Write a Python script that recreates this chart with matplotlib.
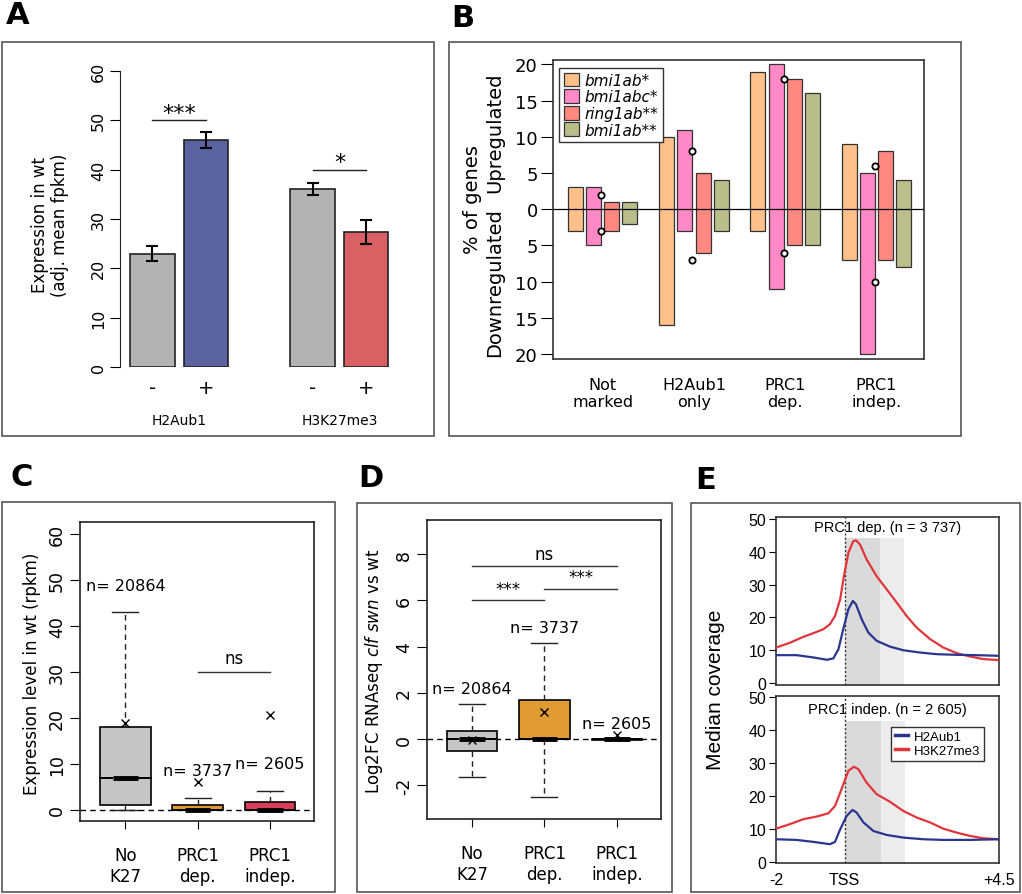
import numpy as np
import matplotlib
matplotlib.use('Agg')
import matplotlib.pyplot as plt
from matplotlib.patches import Rectangle, Patch
from matplotlib.lines import Line2D

plt.rcParams['axes.unicode_minus'] = False

W, H = 1022, 895

# ---------------- data ----------------
# A: mean expression by mark
a_groups = ['H2Aub1', 'H3K27me3']
a_signs = ['-', '+', '-', '+']
a_means = [23.0, 46.0, 36.0, 27.4]
a_err = [1.6, 1.7, 1.2, 2.4]
a_stars = ['***', '*']
a_star_y = [50, 40]

# B: % of genes up / down
b_categories = ['Not\nmarked', 'H2Aub1\nonly', 'PRC1\ndep.', 'PRC1\nindep.']
b_mutants = ['bmi1ab*', 'bmi1abc*', 'ring1ab**', 'bmi1ab**']
b_up_bmi1ab = [3, 10, 19, 9]
b_up_bmi1abc = [3, 11, 20, 5]
b_up_ring1ab = [1, 5, 18, 8]
b_up_bmi1ab2 = [1, 4, 16, 4]
b_down_bmi1ab = [3, 16, 3, 7]
b_down_bmi1abc = [5, 3, 11, 20]
b_down_ring1ab = [3, 6, 5, 7]
b_down_bmi1ab2 = [2, 3, 5, 8]
b_ref_up = [2, 8, 18, 6]
b_ref_down = [3, 7, 6, 10]

# C: expression level in wt (box stats)
c_groups = ['No\nK27', 'PRC1\ndep.', 'PRC1\nindep.']
c_n = ['20864', '3737', '2605']
c_q1 = [1.0, 0.0, 0.0]
c_med = [7.0, 0.0, 0.0]
c_q3 = [18.0, 1.0, 1.7]
c_whislo = [0.0, 0.0, 0.0]
c_whishi = [43.0, 2.5, 4.2]
c_mean = [18.8, 6.0, 20.5]
c_n_y = [48.8, 8.5, 10.0]

# D: log2FC clf swn vs wt (box stats)
d_groups = ['No\nK27', 'PRC1\ndep.', 'PRC1\nindep.']
d_n = ['20864', '3737', '2605']
d_q1 = [-0.5, 0.0, -0.02]
d_med = [0.0, 0.0, 0.0]
d_q3 = [0.33, 1.68, 0.02]
d_whislo = [-1.65, -2.5, 0.0]
d_whishi = [1.5, 4.15, 0.0]
d_mean = [-0.05, 1.15, 0.18]
d_n_y = [2.2, 4.84, 0.69]

# E: median coverage profiles
e1_red_x = [-2, -1.59, -1.2, -0.91, -0.62, -0.43, -0.28, -0.13, -0.02, 0.11, 0.25, 0.33, 0.45,
            0.64, 0.93, 1.23, 1.52, 1.81, 2.10, 2.49, 2.88, 3.27, 3.66, 4.04, 4.5]
e1_red_y = [10.8, 12.3, 14.1, 15.2, 16.4, 17.9, 20.4, 25.5, 32.6, 39.7, 43.2, 43.5, 42.2,
            37.7, 32.6, 28.5, 24.5, 20.4, 16.9, 13.4, 10.8, 9.1, 8.1, 7.3, 7.0]
e1_blue_x = [-2, -1.4, -0.91, -0.52, -0.33, -0.18, -0.04, 0.11, 0.24, 0.33, 0.50, 0.69, 0.93,
             1.32, 1.71, 2.20, 2.68, 3.27, 3.85, 4.5]
e1_blue_y = [8.5, 8.5, 7.8, 7.1, 7.5, 10.3, 16.4, 22.5, 25.0, 24.0, 19.4, 15.4, 12.9,
             11.1, 10.0, 9.3, 8.8, 8.6, 8.5, 8.3]
e2_red_x = [-2, -1.59, -1.2, -0.81, -0.47, -0.28, -0.09, 0.11, 0.27, 0.40, 0.64, 0.93, 1.32,
            1.71, 2.10, 2.49, 2.88, 3.27, 3.66, 4.04, 4.5]
e2_red_y = [10.1, 11.5, 13.0, 13.8, 14.8, 17.0, 22.1, 27.7, 28.9, 28.2, 24.1, 20.6, 18.3,
            15.5, 13.5, 12.0, 10.1, 8.9, 7.9, 7.2, 6.9]
e2_blue_x = [-2, -1.4, -0.91, -0.43, -0.28, -0.13, 0.06, 0.23, 0.35, 0.55, 0.84, 1.23, 1.71,
             2.30, 2.88, 3.66, 4.5]
e2_blue_y = [6.9, 6.7, 6.1, 5.4, 6.1, 9.9, 14.0, 15.8, 15.0, 12.0, 9.4, 8.2, 7.4,
             6.9, 6.7, 6.7, 6.9]
e_titles = ['PRC1 dep. (n = 3 737)', 'PRC1 indep. (n = 2 605)']
e_shade_dark = [(0, 1.03, 44.2), (0, 1.05, 42.7)]
e_shade_light = [(1.03, 1.72, 44.2), (1.05, 1.76, 42.7)]

# ---------------- figure ----------------
fig = plt.figure(figsize=(W / 100, H / 100), dpi=100)
EDGE = '#333333'


def add_ax(x0, y0, x1, y1):
    return fig.add_axes([x0 / W, 1 - y1 / H, (x1 - x0) / W, (y1 - y0) / H])


def ftext(x, y, s, **kw):
    return fig.text(x / W, 1 - y / H, s, **kw)


def frame(x0, y0, x1, y1):
    fig.add_artist(Rectangle((x0 / W, 1 - y1 / H), (x1 - x0) / W, (y1 - y0) / H,
                             transform=fig.transFigure, fill=False, ec='#555555', lw=1.2))


frame(2, 43, 434, 437)
frame(449, 43, 961, 437)
frame(2, 503, 335, 893)
frame(357, 504, 672, 893)
frame(691, 504, 1020, 893)

for lbl, x, y in [('A', 6, 1), ('B', 451, 4), ('C', 10, 463), ('D', 358, 464), ('E', 695, 466)]:
    ftext(x, y, lbl, fontsize=22, fontweight='heavy', ha='left', va='top')

# ---- A ----
axA = add_ax(120, 72, 400, 368)
a_x = [0, 1.2, 3.6, 4.8]
a_colors = ['#b3b3b3', '#5a62a0', '#b3b3b3', '#d96164']
axA.bar(a_x, a_means, width=1.0, color=a_colors, edgecolor='#222222', lw=1.2)
axA.errorbar(a_x, a_means, yerr=a_err, fmt='none', ecolor='black', elinewidth=1.5,
             capsize=4, capthick=1.5)
axA.set_xlim(-0.73, 5.56)
axA.set_ylim(0, 60)
for s in ['top', 'right', 'bottom']:
    axA.spines[s].set_visible(False)
axA.spines['left'].set_bounds(0, 60)
axA.spines['left'].set_color('#222222')
axA.set_yticks(range(0, 61, 10))
axA.tick_params(axis='y', length=7, labelsize=11.5, pad=3)
plt.setp(axA.get_yticklabels(), rotation=90, va='center')
axA.set_xticks(a_x)
axA.set_xticklabels(a_signs)
axA.tick_params(axis='x', length=0, labelsize=14, pad=8)
for i, g in enumerate(a_groups):
    mid = (a_x[2 * i] + a_x[2 * i + 1]) / 2
    axA.text(mid, -0.155, g, transform=axA.get_xaxis_transform(), ha='center', va='top', fontsize=10)
    axA.plot([a_x[2 * i], a_x[2 * i + 1]], [a_star_y[i]] * 2, color='#222222', lw=1)
    axA.text(mid, a_star_y[i] + 1.5, a_stars[i], ha='center', va='center', fontsize=16)
ftext(50, 225, 'Expression in wt\n(adj. mean fpkm)', rotation=90, ha='center', va='center',
      fontsize=12, multialignment='center', linespacing=1.1)

# ---- B ----
axB = add_ax(553, 61, 924, 360)
b_colors = ['#ffc08a', '#ff88c6', '#ff8880', '#b9be8a']
b_up = [b_up_bmi1ab, b_up_bmi1abc, b_up_ring1ab, b_up_bmi1ab2]
b_down = [b_down_bmi1ab, b_down_bmi1abc, b_down_ring1ab, b_down_bmi1ab2]
x_base = np.arange(len(b_categories)) * 5
bw = 0.82
for j in range(len(b_mutants)):
    up = np.array(b_up[j])
    dn = np.array(b_down[j])
    axB.bar(x_base + j, up + dn, bottom=-dn, width=bw, color=b_colors[j], edgecolor=EDGE, lw=0.9)
axB.axhline(0, color='black', lw=0.9)
cx = x_base + 1 + bw / 2
axB.plot(cx, b_ref_up, 'o', mfc='white', mec='black', ms=4.5, mew=1.3, zorder=5)
axB.plot(cx, -np.array(b_ref_down), 'o', mfc='white', mec='black', ms=4.5, mew=1.3, zorder=5)
axB.set_xlim(-1.215, 19.1)
axB.set_ylim(-20.7, 20.6)
yt = np.arange(-20, 21, 5)
axB.set_yticks(yt)
axB.set_yticklabels([str(abs(v)) for v in yt])
axB.tick_params(axis='y', length=9, labelsize=13, pad=2)
axB.set_xticks(x_base + 1.5)
axB.set_xticklabels(b_categories)
axB.tick_params(axis='x', length=0, labelsize=11.5, pad=13)
for s in axB.spines.values():
    s.set_color(EDGE)
    s.set_linewidth(1.2)
handles = [Patch(facecolor=c, edgecolor=EDGE, lw=0.9) for c in b_colors]
leg = axB.legend(handles, b_mutants, loc='upper left', bbox_to_anchor=(0.016, 0.973),
                 borderaxespad=0, fancybox=False, edgecolor=EDGE, framealpha=1,
                 prop={'style': 'italic', 'size': 11}, handlelength=1.0, handleheight=1.0,
                 handletextpad=0.4, borderpad=0.3, labelspacing=0.1)
leg.get_frame().set_linewidth(1)
ftext(472, 200, '% of genes', rotation=90, ha='center', va='center', fontsize=14)
ftext(495, 133, 'Upregulated', rotation=90, ha='center', va='center', fontsize=14)
ftext(495, 283, 'Downregulated', rotation=90, ha='center', va='center', fontsize=14)


# ---- C and D: box plots ----
def boxpanel(ax, q1, med, q3, lo, hi, mean, colors):
    stats = []
    for k in range(len(q1)):
        stats.append(dict(q1=q1[k], med=med[k], q3=q3[k], whislo=lo[k], whishi=hi[k],
                          mean=mean[k], cilo=med[k], cihi=med[k], fliers=[]))
    bp = ax.bxp(stats, positions=[1, 2, 3], widths=0.7, shownotches=True, showmeans=True,
                patch_artist=True, capwidths=0.36,
                boxprops=dict(edgecolor='black', lw=1.2),
                whiskerprops=dict(ls=(0, (4, 3)), lw=1, color='#222222'),
                capprops=dict(lw=1, color='#222222'),
                medianprops=dict(color='black', lw=3.5, solid_capstyle='butt'),
                meanprops=dict(marker='x', mec='black', ms=6, mew=1))
    for p, c in zip(bp['boxes'], colors):
        p.set_facecolor(c)
    ax.axhline(0, ls=(0, (4, 3)), color='black', lw=1, zorder=1)
    ax.set_xlim(0.373, 3.61)
    for s in ax.spines.values():
        s.set_color('#222222')
        s.set_linewidth(1.2)
    ax.set_xticks([1, 2, 3])
    ax.tick_params(axis='x', length=6, labelsize=12, pad=12)
    ax.tick_params(axis='y', length=7, labelsize=12.5, pad=3)


axC = add_ax(80, 523, 314, 822)
boxpanel(axC, c_q1, c_med, c_q3, c_whislo, c_whishi, c_mean, ['#c6c6c6', '#e39b30', '#d93e58'])
axC.set_ylim(-2.4, 62.5)
axC.set_yticks(range(0, 61, 10))
plt.setp(axC.get_yticklabels(), rotation=90, va='center')
axC.set_xticklabels(c_groups)
for k in range(3):
    axC.text(k + 1, c_n_y[k], 'n= ' + c_n[k], ha='center', va='center', fontsize=11.5)
axC.plot([2, 3], [30, 30], color='#333333', lw=1)
axC.text(2.5, 33, 'ns', ha='center', va='center', fontsize=12)
ftext(32, 674, 'Expression level in wt (rpkm)', rotation=90, ha='center', va='center', fontsize=12)

axD = add_ax(426.7, 521, 661, 820)
boxpanel(axD, d_q1, d_med, d_q3, d_whislo, d_whishi, d_mean, ['#c6c6c6', '#e09c32', '#c6c6c6'])
axD.set_ylim(-3.46, 9.48)
axD.set_yticks(range(-2, 9, 2))
plt.setp(axD.get_yticklabels(), rotation=90, va='center')
axD.set_xticklabels(d_groups)
for k in range(3):
    axD.text(k + 1, d_n_y[k], 'n= ' + d_n[k], ha='center', va='center', fontsize=11.5)
for (xa, xb, yy, lab, ty) in [(1, 3, 7.5, 'ns', 8.0), (1, 2, 6.0, '***', 6.5), (2, 3, 6.5, '***', 7.0)]:
    axD.plot([xa, xb], [yy, yy], color='#333333', lw=1)
    axD.text((xa + xb) / 2, ty, lab, ha='center', va='center', fontsize=12)
ftext(374, 671, r'Log2FC RNAseq $\it{clf\ swn}$ vs wt', rotation=90, ha='center', va='center',
      fontsize=12)

# ---- E ----
EF = 'Liberation Sans'
axE1 = add_ax(776, 518.3, 999, 685.7)
axE2 = add_ax(776, 697.3, 999, 864.3)
e_lines = [(e1_blue_x, e1_blue_y, e1_red_x, e1_red_y), (e2_blue_x, e2_blue_y, e2_red_x, e2_red_y)]
e_ylims = [(-0.5, 50.5), (-0.4, 50.3)]
e_title_y = [0.944, 0.924]
for i, ax in enumerate([axE1, axE2]):
    d0, d1, dt = e_shade_dark[i]
    l0, l1, lt = e_shade_light[i]
    ax.fill_between([d0, d1], -5, dt, color='#dadada', lw=0, zorder=0)
    ax.fill_between([l0, l1], -5, lt, color='#ececec', lw=0, zorder=0)
    ax.axvline(0, ls=(0, (1.5, 1.5)), color='#333333', lw=1, zorder=1)
    bx, by, rx, ry = e_lines[i]
    ax.plot(rx, ry, color='#e0353b', lw=1.6, zorder=3, label='H3K27me3')
    ax.plot(bx, by, color='#2b3590', lw=1.6, zorder=3, label='H2Aub1')
    ax.set_xlim(-2, 4.5)
    ax.set_ylim(*e_ylims[i])
    ax.set_yticks(range(0, 51, 10))
    ax.tick_params(axis='y', length=5, labelsize=11.5, pad=2)
    for t in ax.get_yticklabels():
        t.set_family(EF)
    for s in ax.spines.values():
        s.set_color(EDGE)
        s.set_linewidth(1.2)
    ax.text(0.5, e_title_y[i], e_titles[i], transform=ax.transAxes, ha='center', va='center',
            fontsize=10.5, family=EF)
axE1.set_xticks([])
axE2.set_xticks([-2, 0, 4.5])
axE2.set_xticklabels(['-2', 'TSS', '+4.5'], family=EF)
axE2.tick_params(axis='x', length=0, labelsize=11.5, pad=6)
eh = [Line2D([], [], color='#2b3590', lw=2.5), Line2D([], [], color='#e0353b', lw=2.5)]
legE = axE2.legend(eh, ['H2Aub1', 'H3K27me3'], loc='upper right', bbox_to_anchor=(0.933, 0.818),
                   borderaxespad=0, fancybox=False, edgecolor=EDGE, framealpha=1,
                   prop={'family': EF, 'size': 9.5}, handlelength=1.0, handletextpad=0.4,
                   borderpad=0.3, labelspacing=0.15)
ftext(715, 690, 'Median coverage', rotation=90, ha='center', va='center', fontsize=15, family=EF)

fig.savefig('out.png', dpi=100)
